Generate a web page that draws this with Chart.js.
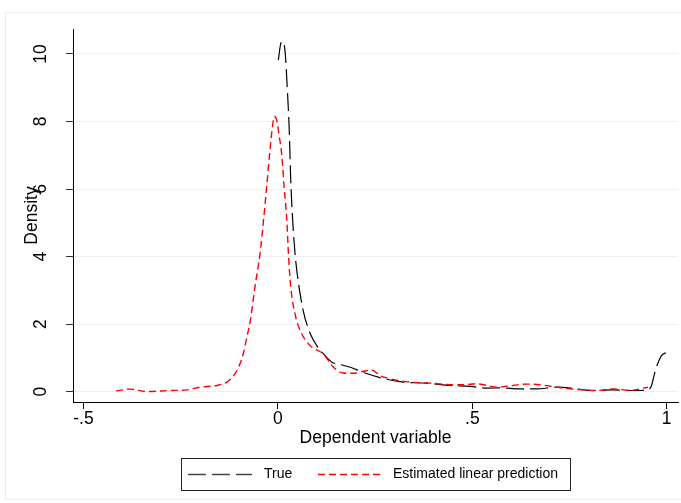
<!DOCTYPE html>
<html><head><meta charset="utf-8">
<script src="https://cdn.jsdelivr.net/npm/chart.js@4.4.0/dist/chart.umd.min.js"></script>
<style>html,body{margin:0;padding:0;background:#fff;}</style>
</head><body>
<canvas id="c" width="681" height="503"></canvas>
<script>
// ---- data ----
const xTicks = [-0.5, 0, 0.5, 1];
const xTickLabels = ['-.5', '0', '.5', '1'];
const yTicks = [0, 2, 4, 6, 8, 10];
const yTickLabels = ['0', '2', '4', '6', '8', '10'];
const seriesNames = ['True', 'Estimated linear prediction'];
const xTitle = 'Dependent variable';
const yTitle = 'Density';

const trueX = [0.001, 0.008, 0.013, 0.019, 0.024, 0.029, 0.033, 0.038, 0.044, 0.052, 0.065, 0.083, 0.1, 0.121, 0.139, 0.16, 0.186, 0.219, 0.27, 0.322, 0.383, 0.443, 0.494, 0.537, 0.571, 0.623, 0.666, 0.717, 0.768, 0.811, 0.862, 0.914, 0.952, 0.961, 0.968, 0.976, 0.987, 0.998];
const trueY = [9.82, 10.33, 10.37, 10.0, 9.0, 7.8, 6.26, 5.07, 4.09, 3.29, 2.4, 1.72, 1.36, 1.07, 0.87, 0.8, 0.72, 0.57, 0.39, 0.28, 0.25, 0.18, 0.15, 0.1, 0.11, 0.08, 0.08, 0.13, 0.08, 0.03, 0.05, 0.03, 0.05, 0.18, 0.5, 0.8, 1.07, 1.15];

const predX = [-0.416, -0.38, -0.337, -0.277, -0.234, -0.2, -0.157, -0.131, -0.115, -0.1, -0.089, -0.08, -0.071, -0.059, -0.046, -0.037, -0.029, -0.02, -0.014, -0.009, -0.003, 0.003, 0.01, 0.016, 0.023, 0.027, 0.033, 0.044, 0.057, 0.083, 0.117, 0.143, 0.168, 0.194, 0.22, 0.241, 0.263, 0.288, 0.34, 0.391, 0.434, 0.477, 0.511, 0.537, 0.563, 0.605, 0.64, 0.674, 0.717, 0.751, 0.785, 0.82, 0.862, 0.905, 0.94, 0.952];
const predY = [0.02, 0.07, 0.0, 0.03, 0.05, 0.13, 0.18, 0.28, 0.45, 0.75, 1.12, 1.6, 2.1, 3.1, 4.09, 5.07, 6.06, 7.2, 7.85, 8.15, 8.04, 7.6, 7.0, 6.06, 5.07, 4.09, 3.1, 2.3, 1.81, 1.36, 1.11, 0.72, 0.55, 0.54, 0.6, 0.64, 0.47, 0.38, 0.28, 0.25, 0.21, 0.2, 0.23, 0.18, 0.13, 0.18, 0.22, 0.2, 0.13, 0.08, 0.05, 0.03, 0.08, 0.03, 0.1, 0.13];

const FONT = '"Liberation Sans", Arial, Helvetica, sans-serif';
const BLACK_DASH = [18, 6];
const RED_DASH = [7, 4];
const RED = 'rgb(255,0,0)';

const decor = {
  id: 'decor',
  beforeDraw(chart) {
    const ctx = chart.ctx;
    ctx.save();
    ctx.fillStyle = '#fff';
    ctx.fillRect(0, 0, chart.width, chart.height);
    ctx.strokeStyle = '#e6eef1';
    ctx.lineWidth = 1;
    ctx.strokeRect(5.5, 12.5, 680, 487);
    ctx.restore();
  },
  afterDraw(chart) {
    const ctx = chart.ctx;
    const ys = chart.scales.y;
    const a = chart.chartArea;
    ctx.save();
    ctx.fillStyle = '#000';
    ctx.font = '17.5px ' + FONT;
    ctx.textAlign = 'center';
    ctx.textBaseline = 'middle';
    yTicks.forEach((v, i) => {
      const py = ys.getPixelForValue(v);
      ctx.save();
      ctx.translate(41, py);
      ctx.rotate(-Math.PI / 2);
      ctx.fillText(yTickLabels[i], 0, 0);
      ctx.restore();
    });
    // y title
    ctx.save();
    ctx.translate(32, (a.top + a.bottom) / 2);
    ctx.rotate(-Math.PI / 2);
    ctx.fillText(yTitle, 0, 0);
    ctx.restore();
    // x title
    ctx.fillText(xTitle, (a.left + a.right) / 2, 438);
    // legend
    ctx.strokeStyle = '#222';
    ctx.lineWidth = 1;
    ctx.strokeRect(181.5, 458.5, 389, 32);
    const ly = 474.5;
    ctx.lineWidth = 1.6;
    ctx.strokeStyle = '#444';
    ctx.setLineDash(BLACK_DASH);
    ctx.beginPath(); ctx.moveTo(188, ly); ctx.lineTo(252, ly); ctx.stroke();
    ctx.strokeStyle = RED;
    ctx.setLineDash(RED_DASH);
    ctx.beginPath(); ctx.moveTo(318, ly); ctx.lineTo(383, ly); ctx.stroke();
    ctx.setLineDash([]);
    ctx.font = '14px ' + FONT;
    ctx.textAlign = 'left';
    ctx.fillStyle = '#000';
    ctx.fillText(seriesNames[0], 264, ly);
    ctx.fillText(seriesNames[1], 393, ly);
    ctx.restore();
  }
};

new Chart(document.getElementById('c'), {
  type: 'line',
  data: {
    datasets: [
      {
        label: seriesNames[0],
        data: trueX.map((x, i) => ({ x: x, y: trueY[i] })),
        borderColor: '#000', borderWidth: 1.2, borderDash: BLACK_DASH,
        pointRadius: 0, fill: false, cubicInterpolationMode: 'monotone', order: 2
      },
      {
        label: seriesNames[1],
        data: predX.map((x, i) => ({ x: x, y: predY[i] })),
        borderColor: RED, borderWidth: 1.4, borderDash: RED_DASH,
        pointRadius: 0, fill: false, cubicInterpolationMode: 'monotone', order: 1
      }
    ]
  },
  options: {
    responsive: false,
    animation: false,
    devicePixelRatio: 1,
    layout: { padding: { top: 29, right: 3, left: 0, bottom: 0 } },
    plugins: { legend: { display: false }, tooltip: { enabled: false } },
    scales: {
      x: {
        type: 'linear', min: -0.527, max: 1.029,
        afterBuildTicks: s => { s.ticks = xTicks.map(v => ({ value: v })); },
        afterFit: s => { s.height = 101; },
        ticks: {
          autoSkip: false, maxRotation: 0, minRotation: 0, padding: 0,
          color: '#000', font: { family: FONT, size: 17.5 },
          callback: v => xTickLabels[xTicks.indexOf(v)]
        },
        grid: { drawOnChartArea: false, drawTicks: true, tickLength: 7, tickColor: '#000', tickWidth: 1 },
        border: { display: true, color: '#000', width: 1 }
      },
      y: {
        type: 'linear', min: -0.31, max: 10.74,
        afterBuildTicks: s => { s.ticks = yTicks.map(v => ({ value: v })); },
        afterFit: s => { s.width = 73; },
        ticks: { display: false },
        grid: { color: '#eaf1f4', lineWidth: 1, drawTicks: true, tickLength: 7, tickColor: '#333', tickWidth: 1 },
        border: { display: true, color: '#000', width: 1 }
      }
    }
  },
  plugins: [decor]
});
</script>
</body></html>
